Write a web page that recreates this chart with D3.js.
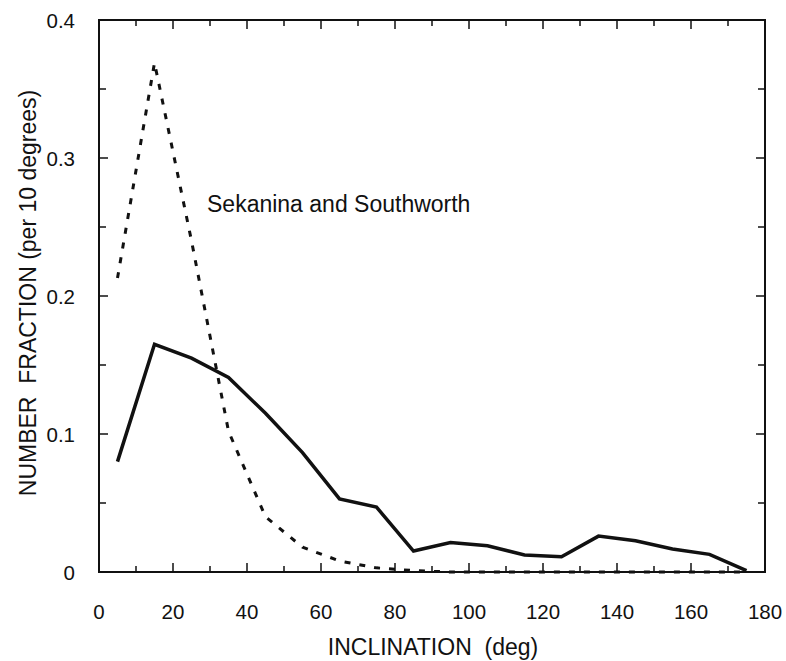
<!DOCTYPE html>
<html><head><meta charset="utf-8">
<script src="https://cdn.jsdelivr.net/npm/d3@7"></script>
<style>body{margin:0;background:#fff}svg{display:block}text{font-family:"Liberation Sans",Arial,sans-serif;fill:#111}</style>
</head><body><svg id="c" width="786" height="661"></svg>
<script>
const inclination = [5,15,25,35,45,55,65,75,85,95,105,115,125,135,145,155,165,175];
const observed = [0.080,0.165,0.155,0.141,0.115,0.0865,0.053,0.047,0.0152,0.0213,0.019,0.0123,0.011,0.026,0.0227,0.0167,0.0128,0.001];
const sekanina = [0.213,0.369,0.240,0.102,0.040,0.018,0.008,0.003,0.001,0,0,0,0,0,0,0,0,0];
const xTicks = [0,20,40,60,80,100,120,140,160,180];
const yTicks = [0,0.1,0.2,0.3,0.4];
const yTickLabels = ["0","0.1","0.2","0.3","0.4"];
const annotation = "Sekanina and Southworth";

const svg = d3.select("#c");
const L=99, R=765, T=20, B=572;
const x = d3.scaleLinear().domain([0,180]).range([L,R]);
const y = d3.scaleLinear().domain([0,0.4]).range([B,T]);

const g = svg.append("g");
g.append("rect").attr("x",L).attr("y",T).attr("width",R-L).attr("height",B-T)
 .attr("fill","none").attr("stroke","#111").attr("stroke-width",2);

const majX = d3.range(0,181,20), minX = d3.range(10,180,20);
const majY = d3.range(0,0.401,0.1), minY = d3.range(0.05,0.4,0.1);
function ticks(vals, len){
  vals.forEach(v=>{
    g.append("line").attr("x1",x(v)).attr("x2",x(v)).attr("y1",B).attr("y2",B-len).attr("stroke","#111").attr("stroke-width",1.5);
    g.append("line").attr("x1",x(v)).attr("x2",x(v)).attr("y1",T).attr("y2",T+len).attr("stroke","#111").attr("stroke-width",1.5);
  });
}
function ticksY(vals, len){
  vals.forEach(v=>{
    g.append("line").attr("y1",y(v)).attr("y2",y(v)).attr("x1",L).attr("x2",L+len).attr("stroke","#111").attr("stroke-width",1.5);
    g.append("line").attr("y1",y(v)).attr("y2",y(v)).attr("x1",R).attr("x2",R-len).attr("stroke","#111").attr("stroke-width",1.5);
  });
}
ticks(majX,9); ticks(minX,6); ticksY(majY,9); ticksY(minY,7);

xTicks.forEach(v=>{
  g.append("text").attr("x",x(v)).attr("y",619).attr("text-anchor","middle").attr("font-size",20.5).text(v);
});
yTicks.forEach((v,i)=>{
  g.append("text").attr("x",75).attr("y",y(v)+7.5).attr("text-anchor","end").attr("font-size",20.5).text(yTickLabels[i]);
});

g.append("text").attr("x",433).attr("y",655).attr("text-anchor","middle").attr("font-size",23)
 .style("white-space","pre").text("INCLINATION  (deg)");
g.append("text").attr("transform","translate(36,293) rotate(-90)").attr("text-anchor","middle").attr("font-size",23)
 .style("white-space","pre").text("NUMBER  FRACTION (per 10 degrees)");

const line = d3.line().x((d,i)=>x(inclination[i])).y(d=>y(d));
g.append("path").datum(sekanina).attr("d",line).attr("fill","none").attr("stroke","#111")
 .attr("stroke-width",3).attr("stroke-dasharray","6,9");
g.append("path").datum(observed).attr("d",line).attr("fill","none").attr("stroke","#111")
 .attr("stroke-width",3.5).attr("stroke-linejoin","miter");

g.append("text").attr("x",207).attr("y",212).attr("font-size",23).text(annotation);
</script></body></html>
